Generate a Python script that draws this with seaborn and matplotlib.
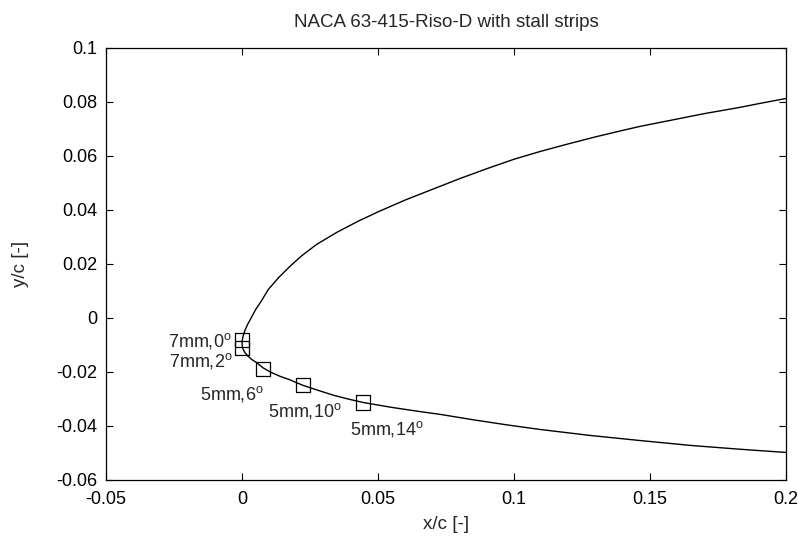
import matplotlib
matplotlib.use("Agg")
import matplotlib.pyplot as plt
import seaborn as sns

# ================= data =================
# upper surface, from x/c = 0.2 round to the nose
upper_x = [0.2, 0.19, 0.183, 0.17, 0.16, 0.1465, 0.14, 0.13, 0.12, 0.1097, 0.10,
           0.09, 0.08, 0.0729, 0.06, 0.05, 0.0428, 0.035, 0.0275, 0.022, 0.0177,
           0.0135, 0.0097, 0.0071, 0.0050, 0.0034, 0.0020, 0.0010, 0.0004, 0.0]
upper_y = [0.0813, 0.0794, 0.078, 0.0757, 0.0737, 0.071, 0.0695, 0.0671, 0.0645,
           0.0617, 0.0588, 0.0553, 0.0516, 0.0488, 0.0437, 0.0393, 0.0359, 0.0318,
           0.0273, 0.0231, 0.0192, 0.0150, 0.0106, 0.0063, 0.0031, 0.0001, -0.0025,
           -0.0048, -0.0067, -0.0088]
# lower surface, from the nose back to x/c = 0.2
lower_x = [0.0001, 0.0004, 0.0012, 0.0022, 0.0035, 0.0053, 0.0078, 0.0108, 0.0140,
           0.0176, 0.0223, 0.0280, 0.0336, 0.0390, 0.0446, 0.055, 0.065, 0.0729,
           0.085, 0.0975, 0.1097, 0.128, 0.1465, 0.165, 0.183, 0.2]
lower_y = [-0.0105, -0.0116, -0.0130, -0.0141, -0.0153, -0.0165, -0.0185, -0.0202,
           -0.0216, -0.0229, -0.0249, -0.0268, -0.0286, -0.0300, -0.0313, -0.0331,
           -0.0346, -0.0357, -0.0377, -0.0396, -0.0413, -0.0435, -0.0454, -0.0472,
           -0.0486, -0.0498]

# stall strip positions
strip_x = [-0.0001, 0.0001, 0.0078, 0.0223, 0.0446]
strip_y = [-0.0081, -0.0110, -0.0190, -0.0249, -0.0313]
strip_labels = ["7mm,0", "7mm,2", "5mm,6", "5mm,10", "5mm,14"]

x_ticks = [-0.05, 0, 0.05, 0.1, 0.15, 0.2]
x_tick_labels = ["-0.05", "0", "0.05", "0.1", "0.15", "0.2"]
y_ticks = [-0.06, -0.04, -0.02, 0, 0.02, 0.04, 0.06, 0.08, 0.1]
y_tick_labels = ["-0.06", "-0.04", "-0.02", "0", "0.02", "0.04", "0.06", "0.08", "0.1"]
# ==================================================================

sns.set_style("ticks")
plt.rcParams["font.family"] = ["Liberation Sans", "DejaVu Sans"]
plt.rcParams["mathtext.default"] = "regular"

fig = plt.figure(figsize=(7.98, 5.36), dpi=100)
ax = fig.add_axes([106 / 798, 56 / 536, 680 / 798, 432 / 536])

contour_x = upper_x + lower_x
contour_y = upper_y + lower_y
sns.lineplot(x=contour_x, y=contour_y, sort=False, estimator=None,
             color="black", linewidth=1.0, ax=ax)

sns.scatterplot(x=strip_x, y=strip_y, marker="s", s=105,
                facecolor="none", edgecolor="black", linewidth=0.9, ax=ax, zorder=3)

# label offsets (pixels) and alignment for each strip
offsets = [(-10, -7, "right"), (-10, -19, "right"), (0, -30, "right"),
           (39, -31, "right"), (-13, -32, "left")]
for x, y, lab, (dx, dy, ha) in zip(strip_x, strip_y, strip_labels, offsets):
    ax.annotate(lab + r"$^{o}$", xy=(x, y), xytext=(dx, dy), textcoords="offset pixels",
                ha=ha, va="baseline", fontsize=13)

ax.set_xlim(-0.05, 0.2)
ax.set_ylim(-0.06, 0.1)
ax.set_xticks(x_ticks)
ax.set_xticklabels(x_tick_labels)
ax.set_yticks(y_ticks)
ax.set_yticklabels(y_tick_labels)
ax.tick_params(direction="in", length=5, width=0.8, top=True, right=True,
               labelsize=13, colors="black")
ax.tick_params(axis="x", pad=8)
ax.tick_params(axis="y", pad=6)
for sp in ax.spines.values():
    sp.set_visible(True)
    sp.set_linewidth(0.9)
    sp.set_color("black")

ax.set_title("NACA 63-415-Riso-D with stall strips", fontsize=13.5, pad=15)
ax.set_xlabel("x/c [-]", fontsize=13.5, labelpad=6)
ax.set_ylabel("y/c [-]", fontsize=13.5, labelpad=20)

fig.savefig("out.png", dpi=100)
